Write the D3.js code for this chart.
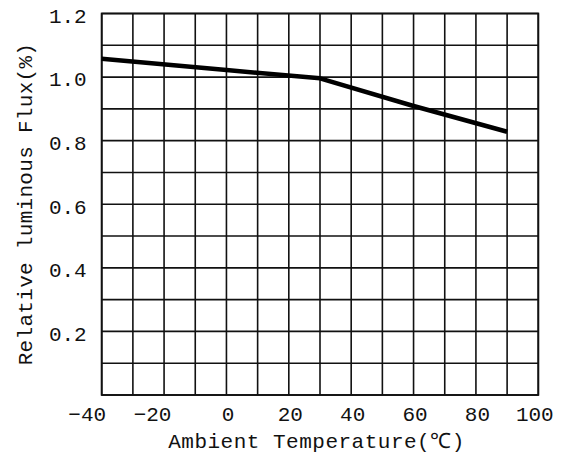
<!DOCTYPE html>
<html><head><meta charset="utf-8">
<script src="https://cdn.jsdelivr.net/npm/d3@7"></script>
<style>
html,body{margin:0;padding:0;background:#fff;}
svg text{font-family:"Liberation Mono","DejaVu Sans Mono",monospace;fill:#111;}
</style></head>
<body><svg id="c" width="563" height="461"></svg>
<script>
const temps = [-40, 0, 30, 60, 90];
const flux = [1.058, 1.022, 0.996, 0.909, 0.828];
const xTickValues = [-40, -20, 0, 20, 40, 60, 80, 100];
const xTickLabels = ["−40", "−20", "0", "20", "40", "60", "80", "100"];
const yTickValues = [0.2, 0.4, 0.6, 0.8, 1.0, 1.2];
const yTickLabels = ["0.2", "0.4", "0.6", "0.8", "1.0", "1.2"];
const xTitle = "Ambient Temperature(℃)";
const yTitle = "Relative luminous Flux(%)";

const svg = d3.select("#c");
const L = 101.7, R = 538.3, T = 13.5, B = 395;
const x = d3.scaleLinear().domain([-40, 100]).range([L, R]);
const y = d3.scaleLinear().domain([0, 1.2]).range([B, T]);

const grid = svg.append("g");
grid.selectAll("line.v").data(d3.range(-40, 101, 10)).enter().append("line")
  .attr("x1", d => x(d)).attr("x2", d => x(d)).attr("y1", T).attr("y2", B)
  .attr("stroke", "#111").attr("stroke-width", 1.6);
grid.selectAll("line.h").data(d3.range(0, 13).map(i => i / 10)).enter().append("line")
  .attr("x1", L).attr("x2", R).attr("y1", d => y(d)).attr("y2", d => y(d))
  .attr("stroke", "#111").attr("stroke-width", 1.6);
svg.append("rect").attr("x", L).attr("y", T).attr("width", R - L).attr("height", B - T)
  .attr("fill", "none").attr("stroke", "#111").attr("stroke-width", 1.8);

const xa = svg.append("g").attr("transform", `translate(0,${B})`)
  .call(d3.axisBottom(x).tickValues(xTickValues).tickSize(0).tickPadding(0)
    .tickFormat((d, i) => xTickLabels[i]));
xa.select(".domain").remove();
xa.selectAll("text").attr("font-size", 21).attr("y", 26).attr("dy", 0)
  .attr("dx", d => d < 0 ? (d === -40 ? -15 : -12) : (d === 100 ? -4 : 1))
  .style("font-family", "'Liberation Mono',monospace").attr("fill", "#111");

const ya = svg.append("g").attr("transform", `translate(${L},0)`)
  .call(d3.axisLeft(y).tickValues(yTickValues).tickSize(0).tickPadding(0)
    .tickFormat((d, i) => yTickLabels[i]));
ya.select(".domain").remove();
ya.selectAll("text").attr("font-size", 21).attr("x", -15).attr("dy", "0.42em")
  .style("font-family", "'Liberation Mono',monospace").attr("fill", "#111");

const line = d3.line().x(d => x(d[0])).y(d => y(d[1]));
svg.append("path").datum(temps.map((t, i) => [t, flux[i]]))
  .attr("d", line).attr("fill", "none").attr("stroke", "#000")
  .attr("stroke-width", 4.5).attr("stroke-linejoin", "round");

svg.append("text").attr("x", 316.5).attr("y", 448).attr("text-anchor", "middle")
  .attr("font-size", 21).attr("letter-spacing", 0.5).text(xTitle);
svg.append("text").attr("transform", "translate(32,204) rotate(-90)")
  .attr("text-anchor", "middle").attr("font-size", 21).attr("letter-spacing", 0.3).text(yTitle);
</script></body></html>
